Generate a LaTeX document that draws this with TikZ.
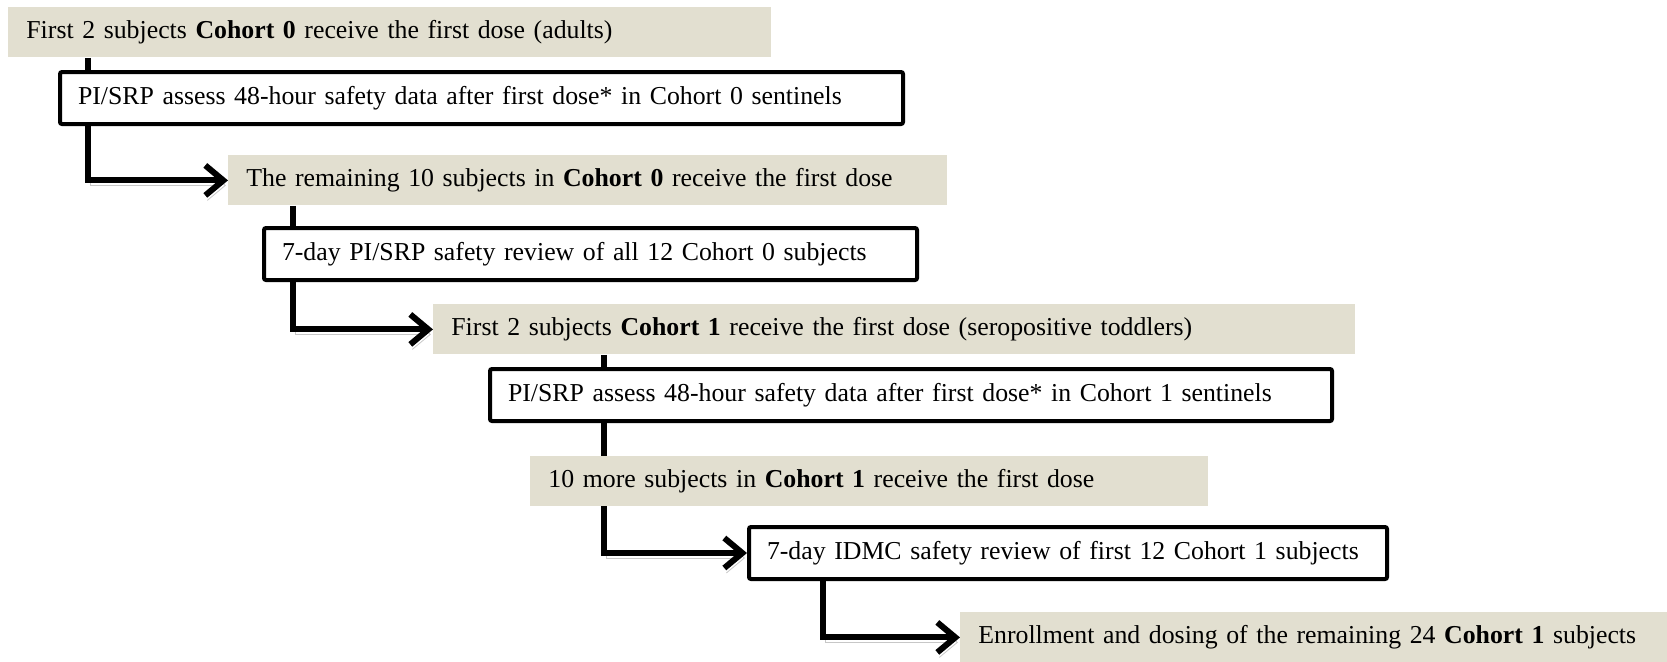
\documentclass[tikz,border=0pt]{standalone}
\usepackage{fontspec}
\setmainfont{Liberation Serif}
\usetikzlibrary{arrows.meta,backgrounds}

\definecolor{dosetan}{RGB}{226,223,208}

\begin{document}
\begin{tikzpicture}[
  x=0.5pt, y=-0.5pt,
  every node/.style={anchor=north west, align=left, inner xsep=9pt, inner ysep=0pt,
    font=\fontsize{12.9}{15}\selectfont},
  dosebox/.style={fill=dosetan, minimum height=25pt, text width=#1},
  reviewbox/.style={draw, line width=2pt, rounded corners=1pt, fill=white,
    minimum height=26pt, text width=#1},
  flowedge/.style={line width=3pt, -{Straight Barb[length=9pt,width=15pt]},
    preaction={draw=black!22, transform canvas={shift={(1pt,-2.5pt)}}}}
]
\useasboundingbox (0,0) rectangle (1667,661);

% --- Dosing steps and safety reviews
\node[dosebox=363.5pt]  (first0)    at (8,7)     {First 2 subjects \textbf{Cohort 0} receive the first dose (adults)};
\node[reviewbox=403.5pt] (sentinel0) at (58,70)  {PI/SRP assess 48-hour safety data after first dose* in Cohort 0 sentinels};
\node[dosebox=341.5pt]  (rest0)     at (228,155) {The remaining 10 subjects in \textbf{Cohort 0} receive the first dose};
\node[reviewbox=308.5pt] (review0)  at (262,226) {7-day PI/SRP safety review of all 12 Cohort 0 subjects};
\node[dosebox=443pt]    (first1)    at (433,304) {First 2 subjects \textbf{Cohort 1} receive the first dose (seropositive toddlers)};
\node[reviewbox=403pt]  (sentinel1) at (488,367) {PI/SRP assess 48-hour safety data after first dose* in Cohort 1 sentinels};
\node[dosebox=321pt]    (more1)     at (530,456) {10 more subjects in \textbf{Cohort 1} receive the first dose};
\node[reviewbox=301pt]  (review1)   at (747,525) {7-day IDMC safety review of first 12 Cohort 1 subjects};
\node[dosebox=335.5pt]  (rest1)     at (960,612) {Enrollment and dosing of the remaining 24 \textbf{Cohort 1} subjects};

% --- Flow lines (behind the boxes)
\begin{scope}[on background layer]
\draw[flowedge] ([xshift=40pt]first0.south west) |- (rest0.west);
\draw[flowedge] ([xshift=32.5pt]rest0.south west) |- (first1.west);
\draw[flowedge] ([xshift=85.5pt]first1.south west) |- (review1.west);
\draw[flowedge] ([xshift=38pt]review1.south west) |- (rest1.west);
\end{scope}

\end{tikzpicture}
\end{document}
